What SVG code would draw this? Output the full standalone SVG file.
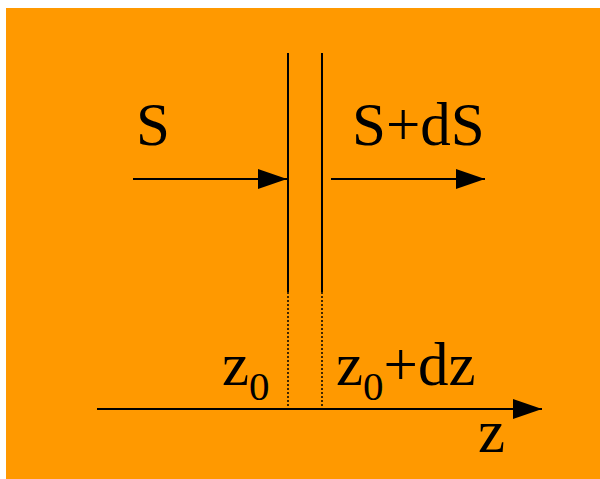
<svg xmlns="http://www.w3.org/2000/svg" width="600" height="479" viewBox="0 0 600 479">
<style>
text{font-family:'Liberation Serif','Times New Roman',serif;font-size:61px;fill:#000}
.s{font-size:41px}
.l{stroke:#000;stroke-width:2;fill:none}
.d{stroke:#000;stroke-width:1.5;stroke-dasharray:2 2;fill:none}
</style>
<defs>
<marker id="ah" markerUnits="userSpaceOnUse" markerWidth="30" markerHeight="22" refX="29" refY="10" orient="auto" viewBox="0 0 30 20">
<path d="M0,0 L29,10 L0,20 Z" fill="#000"/>
</marker>
</defs>
<rect x="6" y="8" width="594" height="471" fill="#FF9900"/>
<g id="connectors">
<line class="l" x1="288" y1="53" x2="288" y2="292"/>
<line class="l" x1="322" y1="53" x2="322" y2="292"/>
<line class="d" x1="288" y1="292" x2="288" y2="408"/>
<line class="d" x1="322" y1="292" x2="322" y2="408"/>
<line class="l" x1="133" y1="179" x2="287" y2="179" marker-end="url(#ah)"/>
<line class="l" x1="331" y1="179" x2="485" y2="179" marker-end="url(#ah)"/>
<line class="l" x1="97" y1="409" x2="542" y2="409" marker-end="url(#ah)"/>
</g>
<g id="label-S"><text x="136" y="145">S</text></g>
<g id="label-SdS"><text x="352" y="145">S+dS</text></g>
<g id="label-z0"><text x="222" y="385">z<tspan class="s" dy="15">0</tspan></text></g>
<g id="label-z0dz"><text x="336" y="385">z<tspan class="s" dy="15">0</tspan><tspan dy="-15">+dz</tspan></text></g>
<g id="label-z"><text x="478" y="452">z</text></g>
</svg>
